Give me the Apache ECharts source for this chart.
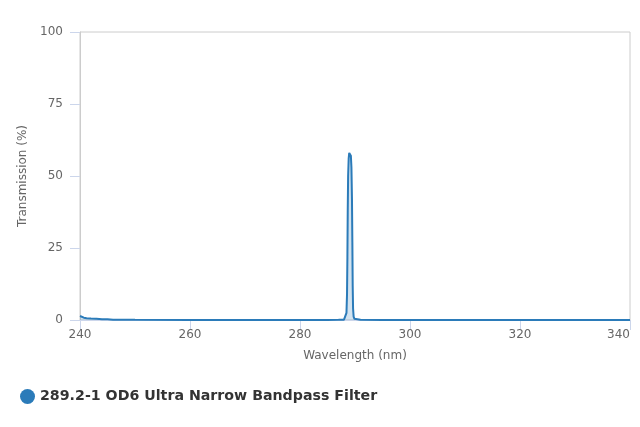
<!DOCTYPE html>
<html>
<head>
<meta charset="utf-8">
<script src="https://cdn.jsdelivr.net/npm/echarts@6/dist/echarts.min.js"></script>
<style>html,body{margin:0;padding:0;background:#fff}#c{width:640px;height:427px}</style>
</head>
<body>
<div id="c"></div>
<script>
const seriesName = "289.2-1 OD6 Ultra Narrow Bandpass Filter";
const wavelengths = [240, 240.3, 240.7, 241.2, 242, 243, 244, 245, 246, 250, 260, 270, 280, 285, 287, 288, 288.3, 288.45, 288.55, 288.62, 288.68, 288.75, 288.85, 288.95, 289.05, 289.15, 289.25, 289.35, 289.45, 289.52, 289.58, 289.65, 289.75, 289.9, 290.2, 291, 295, 300, 310, 320, 330, 340];
const transmission = [1.4, 1.1, 0.8, 0.6, 0.5, 0.4, 0.3, 0.3, 0.1, 0.05, 0.02, 0.02, 0.02, 0.03, 0.05, 0.1, 0.6, 2.5, 9, 22, 38, 50, 56, 58, 58.4, 58.2, 57, 53, 42, 27, 12, 4, 1.2, 0.4, 0.1, 0.05, 0.03, 0.02, 0.02, 0.02, 0.02, 0.02];
const xTicks = {min: 240, max: 340, interval: 20};
const yTicks = {min: 0, max: 100, interval: 25};

const data = wavelengths.map((w, i) => [w, transmission[i]]);
const chart = echarts.init(document.getElementById('c'));
const font = 'DejaVu Sans, sans-serif';
chart.setOption({
  animation: false,
  grid: {left: 80, right: 10, top: 32, bottom: 107, show: true, borderColor: '#ccc', borderWidth: 1},
  legend: {
    left: 15, top: 384, icon: 'circle', itemWidth: 15, itemHeight: 15, itemGap: 6,
    textStyle: {fontFamily: font, fontWeight: 'bold', fontSize: 14.2, color: '#333'},
    data: [seriesName]
  },
  xAxis: {
    type: 'value', min: xTicks.min, max: xTicks.max, interval: xTicks.interval,
    name: 'Wavelength (nm)', nameLocation: 'middle', nameGap: 30,
    nameTextStyle: {fontFamily: font, fontSize: 12, color: '#666'},
    axisLine: {show: true, lineStyle: {color: '#ccd6eb'}},
    axisTick: {show: true, length: 10, lineStyle: {color: '#ccd6eb'}},
    axisLabel: {fontFamily: font, fontSize: 12, color: '#666', margin: 9, alignMaxLabel: 'right'},
    splitLine: {show: false}
  },
  yAxis: {
    type: 'value', min: yTicks.min, max: yTicks.max, interval: yTicks.interval,
    name: 'Transmission (%)', nameLocation: 'middle', nameGap: 51,
    nameTextStyle: {fontFamily: font, fontSize: 12, color: '#666'},
    axisLine: {show: true, lineStyle: {color: '#ccc'}},
    axisTick: {show: true, length: 10, lineStyle: {color: '#ccd6eb'}},
    axisLabel: {fontFamily: font, fontSize: 12, color: '#666', margin: 17},
    splitLine: {show: false}
  },
  series: [{
    name: seriesName, type: 'line', data: data, showSymbol: false, smooth: false,
    itemStyle: {color: '#2b7bb9'},
    lineStyle: {color: '#2b7bb9', width: 2},
    areaStyle: {color: 'rgba(43,123,185,0.3)'}
  }]
});
</script>
</body>
</html>
